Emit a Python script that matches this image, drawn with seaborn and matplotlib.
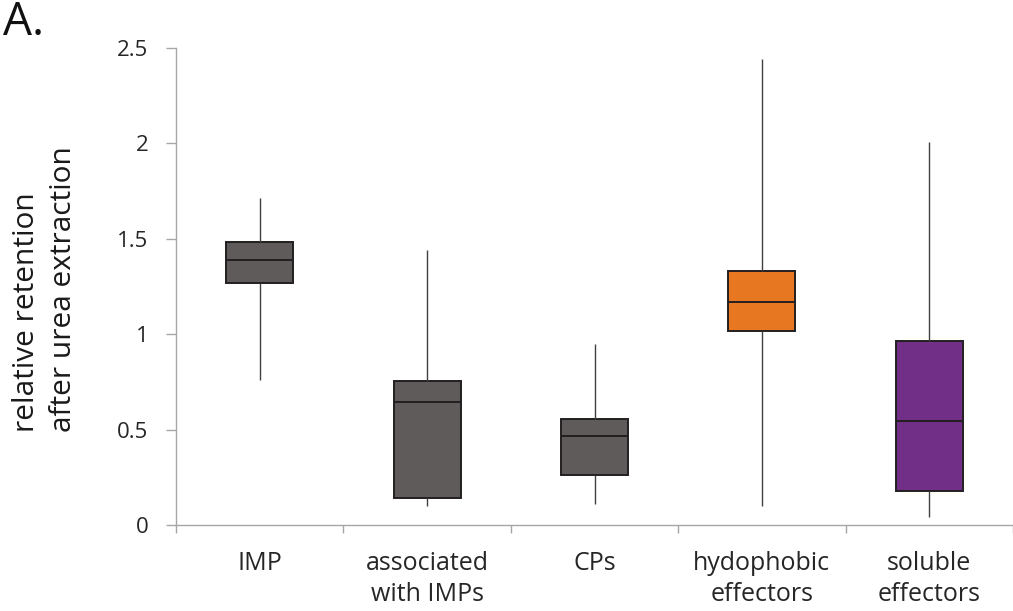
import numpy as np
import pandas as pd
import matplotlib
matplotlib.use("Agg")
import matplotlib.pyplot as plt
from matplotlib.ticker import FixedLocator
import seaborn as sns

# ---- data ----
categories = ["IMP", "associated\nwith IMPs", "CPs", "hydophobic\neffectors", "soluble\neffectors"]
mins    = [0.76, 0.10, 0.11, 0.10, 0.04]
q1s     = [1.27, 0.14, 0.264, 1.018, 0.177]
medians = [1.39, 0.643, 0.468, 1.17, 0.547]
q3s     = [1.483, 0.756, 0.554, 1.331, 0.964]
maxs    = [1.712, 1.44, 0.949, 2.44, 2.006]
box_colors = ["#5F5B5A", "#5F5B5A", "#5F5B5A", "#E87722", "#722F87"]
ytick_values = [0, 0.5, 1, 1.5, 2, 2.5]
ytick_labels = ["0", "0.5", "1", "1.5", "2", "2.5"]

# five-number summaries -> data whose quartiles equal them exactly
rows = []
for cat, a, b, c, d, e in zip(categories, mins, q1s, medians, q3s, maxs):
    for v in (a, b, c, d, e):
        rows.append({"category": cat, "value": v})
df = pd.DataFrame(rows)

sns.set_style("white")
plt.rcParams["font.family"] = ["Open Sans", "DejaVu Sans"]

W, H = 1013, 611
fig = plt.figure(figsize=(W / 100, H / 100), dpi=100)
ax = fig.add_axes([176 / W, 1 - 525 / H, (1013 - 176) / W, (525 - 48) / H])

sns.boxplot(
    data=df, x="category", y="value", hue="category", order=categories,
    hue_order=categories, palette=box_colors, legend=False, saturation=1,
    whis=(0, 100), showcaps=False, width=0.4, ax=ax,
    boxprops=dict(edgecolor="#231F20", linewidth=1.4),
    medianprops=dict(color="#231F20", linewidth=1.4),
    whiskerprops=dict(color="#404040", linewidth=1.0),
)

ax.set_xlim(-0.5, len(categories) - 0.5)
ax.set_ylim(0, 2.5)
ax.set_yticks(ytick_values)
ax.set_yticklabels(ytick_labels)
ax.set_xlabel("")
ax.set_ylabel("")

for s in ("top", "right"):
    ax.spines[s].set_visible(False)
for s in ("left", "bottom"):
    ax.spines[s].set_color("#A6A6A6")
    ax.spines[s].set_linewidth(1.0)

ax.tick_params(axis="y", which="major", length=7, width=1.0, color="#A6A6A6",
               labelsize=16, labelcolor="#262626", pad=13, left=True)
ax.tick_params(axis="x", which="major", length=0, labelsize=18,
               labelcolor="#262626", pad=19, bottom=True)
ax.xaxis.set_minor_locator(FixedLocator(np.arange(-0.5, len(categories), 1.0)))
ax.tick_params(axis="x", which="minor", length=6, width=1.0, color="#A6A6A6", bottom=True)
for lab in ax.get_xticklabels():
    lab.set_linespacing(1.3)

fig.text(45 / W, 1 - 289 / H, "relative retention\nafter urea extraction",
         rotation=90, ha="center", va="center", multialignment="left",
         fontsize=21.5, color="#1a1a1a", linespacing=1.4)
fig.text(3 / W, 1 - 35 / H, "A.", fontsize=33, ha="left", va="baseline", color="#111111")

fig.savefig("out.png", dpi=100)
